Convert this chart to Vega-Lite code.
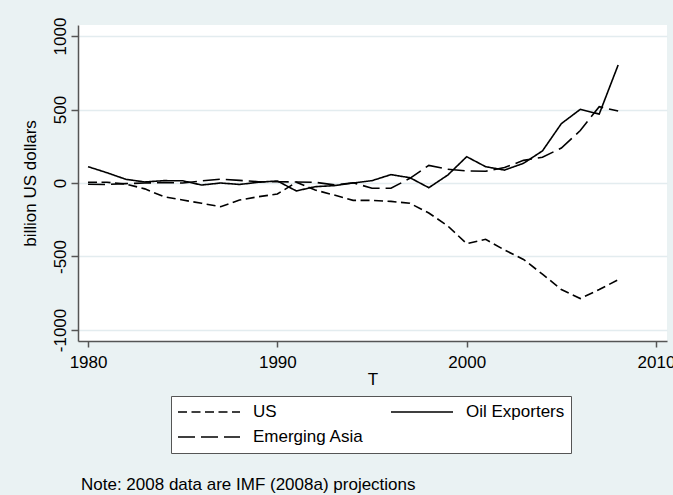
{
  "$schema": "https://vega.github.io/schema/vega-lite/v6.json",
  "width": 589,
  "height": 316,
  "autosize": {"type": "none"},
  "padding": {"left": 78, "top": 25, "right": 6, "bottom": 154},
  "background": "#EAF2F3",
  "title": {
    "text": "Note: 2008 data are IMF (2008a) projections",
    "orient": "bottom",
    "anchor": "start",
    "frame": "group",
    "font": "Liberation Sans",
    "fontSize": 17,
    "fontWeight": "normal",
    "color": "black",
    "dx": 3,
    "offset": 23
  },
  "config": {
    "view": {"fill": "white", "stroke": null},
    "font": "Liberation Sans",
    "axis": {
      "labelFont": "Liberation Sans",
      "titleFont": "Liberation Sans",
      "labelFontSize": 17,
      "titleFontSize": 17,
      "titleFontWeight": "normal",
      "labelColor": "black",
      "titleColor": "black",
      "domainColor": "#555555",
      "domainWidth": 1.5,
      "tickColor": "#555555",
      "tickWidth": 1.5
    }
  },
  "data": {
    "values": [
      {"year": 1980, "series": "US", "value": 5},
      {"year": 1981, "series": "US", "value": 5},
      {"year": 1982, "series": "US", "value": -7},
      {"year": 1983, "series": "US", "value": -40},
      {"year": 1984, "series": "US", "value": -93},
      {"year": 1985, "series": "US", "value": -116},
      {"year": 1986, "series": "US", "value": -138},
      {"year": 1987, "series": "US", "value": -161},
      {"year": 1988, "series": "US", "value": -116},
      {"year": 1989, "series": "US", "value": -93},
      {"year": 1990, "series": "US", "value": -75},
      {"year": 1991, "series": "US", "value": 5},
      {"year": 1992, "series": "US", "value": -48},
      {"year": 1993, "series": "US", "value": -82},
      {"year": 1994, "series": "US", "value": -118},
      {"year": 1995, "series": "US", "value": -118},
      {"year": 1996, "series": "US", "value": -125},
      {"year": 1997, "series": "US", "value": -138},
      {"year": 1998, "series": "US", "value": -204},
      {"year": 1999, "series": "US", "value": -292},
      {"year": 2000, "series": "US", "value": -413},
      {"year": 2001, "series": "US", "value": -383},
      {"year": 2002, "series": "US", "value": -456},
      {"year": 2003, "series": "US", "value": -520},
      {"year": 2004, "series": "US", "value": -620},
      {"year": 2005, "series": "US", "value": -725},
      {"year": 2006, "series": "US", "value": -786},
      {"year": 2007, "series": "US", "value": -725},
      {"year": 2008, "series": "US", "value": -658},
      {"year": 1980, "series": "Oil Exporters", "value": 111},
      {"year": 1981, "series": "Oil Exporters", "value": 70},
      {"year": 1982, "series": "Oil Exporters", "value": 25},
      {"year": 1983, "series": "Oil Exporters", "value": 7},
      {"year": 1984, "series": "Oil Exporters", "value": 16},
      {"year": 1985, "series": "Oil Exporters", "value": 15},
      {"year": 1986, "series": "Oil Exporters", "value": -14},
      {"year": 1987, "series": "Oil Exporters", "value": 0},
      {"year": 1988, "series": "Oil Exporters", "value": -10},
      {"year": 1989, "series": "Oil Exporters", "value": 5},
      {"year": 1990, "series": "Oil Exporters", "value": 14},
      {"year": 1991, "series": "Oil Exporters", "value": -54},
      {"year": 1992, "series": "Oil Exporters", "value": -25},
      {"year": 1993, "series": "Oil Exporters", "value": -18},
      {"year": 1994, "series": "Oil Exporters", "value": 0},
      {"year": 1995, "series": "Oil Exporters", "value": 16},
      {"year": 1996, "series": "Oil Exporters", "value": 57},
      {"year": 1997, "series": "Oil Exporters", "value": 36},
      {"year": 1998, "series": "Oil Exporters", "value": -32},
      {"year": 1999, "series": "Oil Exporters", "value": 54},
      {"year": 2000, "series": "Oil Exporters", "value": 179},
      {"year": 2001, "series": "Oil Exporters", "value": 111},
      {"year": 2002, "series": "Oil Exporters", "value": 88},
      {"year": 2003, "series": "Oil Exporters", "value": 134},
      {"year": 2004, "series": "Oil Exporters", "value": 218},
      {"year": 2005, "series": "Oil Exporters", "value": 404},
      {"year": 2006, "series": "Oil Exporters", "value": 501},
      {"year": 2007, "series": "Oil Exporters", "value": 469},
      {"year": 2008, "series": "Oil Exporters", "value": 803},
      {"year": 1980, "series": "Emerging Asia", "value": -9},
      {"year": 1981, "series": "Emerging Asia", "value": -10},
      {"year": 1982, "series": "Emerging Asia", "value": -4},
      {"year": 1983, "series": "Emerging Asia", "value": 0},
      {"year": 1984, "series": "Emerging Asia", "value": 3},
      {"year": 1985, "series": "Emerging Asia", "value": 0},
      {"year": 1986, "series": "Emerging Asia", "value": 14},
      {"year": 1987, "series": "Emerging Asia", "value": 26},
      {"year": 1988, "series": "Emerging Asia", "value": 18},
      {"year": 1989, "series": "Emerging Asia", "value": 9},
      {"year": 1990, "series": "Emerging Asia", "value": 8},
      {"year": 1991, "series": "Emerging Asia", "value": 7},
      {"year": 1992, "series": "Emerging Asia", "value": 5},
      {"year": 1993, "series": "Emerging Asia", "value": -13},
      {"year": 1994, "series": "Emerging Asia", "value": 2},
      {"year": 1995, "series": "Emerging Asia", "value": -36},
      {"year": 1996, "series": "Emerging Asia", "value": -36},
      {"year": 1997, "series": "Emerging Asia", "value": 32},
      {"year": 1998, "series": "Emerging Asia", "value": 120},
      {"year": 1999, "series": "Emerging Asia", "value": 94},
      {"year": 2000, "series": "Emerging Asia", "value": 82},
      {"year": 2001, "series": "Emerging Asia", "value": 80},
      {"year": 2002, "series": "Emerging Asia", "value": 105},
      {"year": 2003, "series": "Emerging Asia", "value": 154},
      {"year": 2004, "series": "Emerging Asia", "value": 175},
      {"year": 2005, "series": "Emerging Asia", "value": 238},
      {"year": 2006, "series": "Emerging Asia", "value": 357},
      {"year": 2007, "series": "Emerging Asia", "value": 519},
      {"year": 2008, "series": "Emerging Asia", "value": 490}
    ]
  },
  "mark": {"type": "line", "color": "black", "strokeWidth": 1.6},
  "encoding": {
    "x": {
      "field": "year",
      "type": "quantitative",
      "scale": {"domain": [1979.47, 2010.58], "nice": false, "zero": false},
      "axis": {
        "title": "T",
        "values": [1980, 1990, 2000, 2010],
        "format": "d",
        "grid": false,
        "tickSize": 6,
        "labelPadding": 7,
        "titlePadding": 1,
        "labelFlush": false
      }
    },
    "y": {
      "field": "value",
      "type": "quantitative",
      "scale": {"domain": [-1075, 1075], "nice": false, "zero": false},
      "axis": {
        "title": "billion US dollars",
        "values": [-1000, -500, 0, 500, 1000],
        "labelExpr": "datum.value + ''",
        "labelAngle": -90,
        "labelAlign": "center",
        "labelBaseline": "alphabetic",
        "labelPadding": 6,
        "tickSize": 7,
        "grid": true,
        "gridColor": "#E3ECEF",
        "gridWidth": 1.5,
        "titlePadding": 12
      }
    },
    "strokeDash": {
      "field": "series",
      "type": "nominal",
      "scale": {
        "domain": ["US", "Emerging Asia", "Oil Exporters"],
        "range": [[9, 4.5], [17, 6], [1, 0]]
      },
      "legend": {
        "title": null,
        "orient": "none",
        "legendX": 93,
        "legendY": 371,
        "columns": 2,
        "symbolType": "stroke",
        "symbolSize": 3844,
        "symbolStrokeWidth": 1.5,
        "symbolStrokeColor": "black",
        "clipHeight": 20,
        "labelFont": "Liberation Sans",
        "labelFontSize": 17,
        "labelColor": "black",
        "labelOffset": 12,
        "labelLimit": 0,
        "columnPadding": 26,
        "rowPadding": 5,
        "padding": 6,
        "strokeColor": "#555555",
        "fillColor": "white"
      }
    }
  }
}
